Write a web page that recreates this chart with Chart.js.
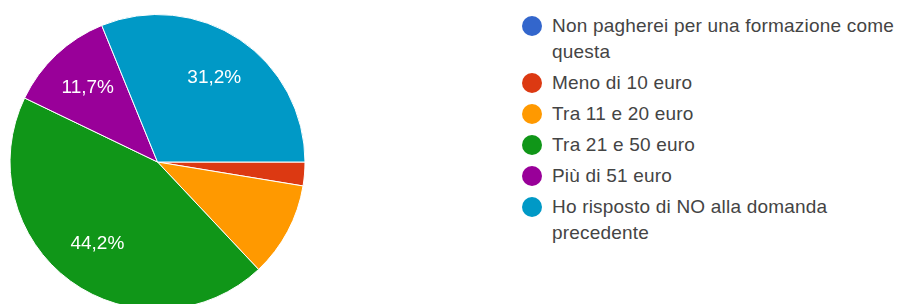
<!DOCTYPE html>
<html>
<head>
<meta charset="utf-8">
<script src="https://cdn.jsdelivr.net/npm/chart.js@4/dist/chart.umd.min.js"></script>
<style>
  html, body { margin: 0; padding: 0; background: #fff; width: 900px; height: 304px; overflow: hidden; }
  #pie { position: absolute; left: 0; top: 0; }
  #legend { position: absolute; left: 522px; top: 13px; margin: 0; padding: 0; list-style: none;
            font-family: "Liberation Sans", Arial, sans-serif; font-size: 19px; letter-spacing: 0.2px; color: #444; }
  #legend li { position: relative; padding-left: 30px; line-height: 26px; margin-bottom: 5px; width: 350px; }
  #legend .dot { position: absolute; left: 0; top: 3px; width: 20px; height: 20px; border-radius: 50%; }
</style>
</head>
<body>
<canvas id="pie" width="315" height="324"></canvas>
<ul id="legend"></ul>
<script>
const categories = [
  "Non pagherei per una formazione come questa",
  "Meno di 10 euro",
  "Tra 11 e 20 euro",
  "Tra 21 e 50 euro",
  "Più di 51 euro",
  "Ho risposto di NO alla domanda precedente"
];
const percentages = [0, 2.6, 10.4, 44.2, 11.7, 31.2];
const colors = ["#3366cc", "#dc3912", "#ff9900", "#109618", "#990099", "#0099c6"];

// white percent text inside the bigger slices
const sliceLabels = {
  id: "sliceLabels",
  afterDatasetsDraw(chart) {
    const ctx = chart.ctx;
    const meta = chart.getDatasetMeta(0);
    ctx.save();
    ctx.fillStyle = "#fff";
    ctx.font = "19px 'Liberation Sans', Arial, sans-serif";
    ctx.textAlign = "center";
    ctx.textBaseline = "middle";
    meta.data.forEach((arc, i) => {
      const v = percentages[i];
      if (v < 11) return;
      const mid = (arc.startAngle + arc.endAngle) / 2;
      const r = arc.outerRadius * 0.69;
      const x = arc.x + Math.cos(mid) * r;
      const y = arc.y + Math.sin(mid) * r;
      ctx.fillText(v.toFixed(1).replace(".", ",") + "%", x, y);
    });
    ctx.restore();
  }
};

new Chart(document.getElementById("pie").getContext("2d"), {
  type: "pie",
  data: {
    labels: categories,
    datasets: [{
      data: percentages,
      backgroundColor: colors,
      borderColor: "#fff",
      borderWidth: 1,
      radius: 147.5
    }]
  },
  options: {
    responsive: false,
    animation: false,
    rotation: 90,
    plugins: { legend: { display: false }, tooltip: { enabled: false } }
  },
  plugins: [sliceLabels]
});

const legend = document.getElementById("legend");
categories.forEach((name, i) => {
  const li = document.createElement("li");
  const dot = document.createElement("span");
  dot.className = "dot";
  dot.style.background = colors[i];
  li.appendChild(dot);
  li.appendChild(document.createTextNode(name));
  legend.appendChild(li);
});
</script>
</body>
</html>
